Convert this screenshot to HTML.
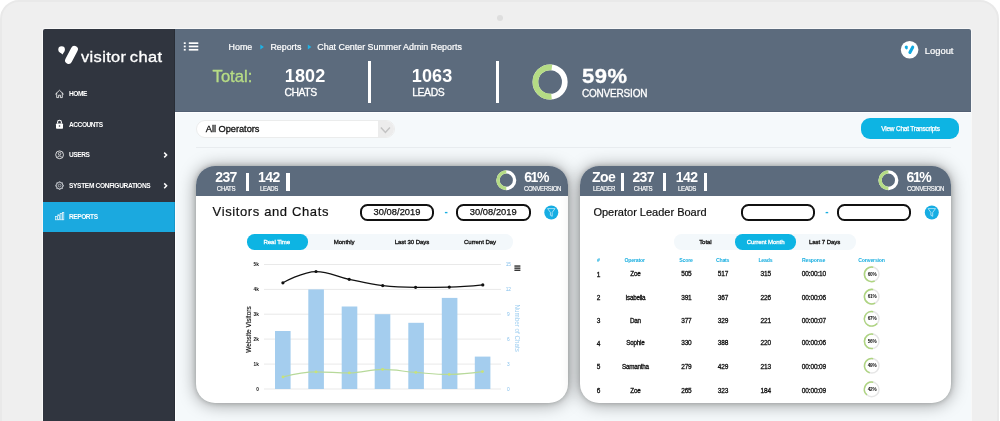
<!DOCTYPE html>
<html lang="en">
<head>
<meta charset="utf-8">
<title>Visitor Chat - Reports</title>
<style>
*{box-sizing:border-box;margin:0;padding:0}
html,body{width:1000px;height:421px;overflow:hidden;background:#fff;font-family:"Liberation Sans",sans-serif}
#frame{position:absolute;left:0;top:0;width:999px;height:460px;background:#efefef;border-radius:19px;border:2px solid #e9e9e9}
#cam{position:absolute;left:497px;top:15px;width:6px;height:6px;border-radius:50%;background:#dedede}
#screen{position:absolute;left:43px;top:29px;width:928px;height:392px;background:#f5f9fb;overflow:hidden;border-radius:2px 2px 0 0;box-shadow:0 0 0 1px #f8f8f8}
#in{position:absolute;left:-43px;top:-29px;width:1000px;height:421px}
.t{position:absolute;white-space:nowrap;line-height:1}
.r{position:absolute}
.card{position:absolute;top:166px;height:237px;background:#fff;border-radius:19px;box-shadow:0 0 5px rgba(0,0,0,.20),0 1px 17px rgba(0,0,0,.40)}
.chead{position:absolute;left:0;top:0;width:100%;height:30px;background:#5c6b7d;border-radius:19px 19px 0 0}
</style>
</head>
<body>
<div id="frame"></div>
<div id="cam"></div>
<div id="screen"><div id="in">
<!-- toolbar + cards -->
<div class="r" style="left:195.6px;top:120px;width:199.6px;height:18.2px;background:#fff;border-radius:9px;border:1.7px solid #ebecec;"></div>
<div class="r" style="left:377.6px;top:121px;width:16.8px;height:16.2px;background:#ececec;border-radius:0 8px 8px 0;"></div>
<svg class="r" style="left:0;top:0" width="1000" height="421" viewBox="0 0 1000 421"><path d="M380.9,127.6 L385.4,132.5 L389.9,127.6" fill="none" stroke="#c3c3c3" stroke-width="1.5"/></svg>
<div class="t" style="left:205.80px;top:125.06px;font-size:9.3px;color:#111;letter-spacing:-0.05px;-webkit-text-stroke:0.3px #111;">All Operators</div>
<div class="r" style="left:196px;top:147px;width:755px;height:1px;background:#e8ecef;"></div>
<div class="r" style="left:861.3px;top:117.7px;width:98.2px;height:21.1px;background:#0db4e3;border-radius:9px;"></div>
<div class="t" style="left:910.50px;top:126.22px;font-size:6.5px;color:#fff;letter-spacing:-0.22px;transform:translateX(-50%);-webkit-text-stroke:0.25px #fff;">View Chat Transcripts</div>
<div class="card" style="left:196.3px;width:372px"><div class="chead"></div></div>
<div class="card" style="left:580.3px;width:371px"><div class="chead"></div></div>
<div class="t" style="left:226.00px;top:170.46px;font-size:14px;color:#fff;font-weight:bold;letter-spacing:-0.6px;transform:translateX(-50%);">237</div><div class="t" style="left:226.00px;top:186.28px;font-size:6.8px;color:#fff;letter-spacing:-0.45px;transform:translateX(-50%) scaleX(0.9);-webkit-text-stroke:0.15px #fff;">CHATS</div>
<div class="r" style="left:246.3px;top:172.5px;width:3.2px;height:18.3px;background:#fff;"></div>
<div class="t" style="left:268.90px;top:170.46px;font-size:14px;color:#fff;font-weight:bold;letter-spacing:-0.6px;transform:translateX(-50%);">142</div><div class="t" style="left:268.90px;top:186.28px;font-size:6.8px;color:#fff;letter-spacing:-0.45px;transform:translateX(-50%) scaleX(0.9);-webkit-text-stroke:0.15px #fff;">LEADS</div>
<div class="r" style="left:286.4px;top:172.5px;width:3.4px;height:18.3px;background:#fff;"></div>
<div class="t" style="left:603.60px;top:170.46px;font-size:14px;color:#fff;font-weight:bold;letter-spacing:-0.6px;transform:translateX(-50%);">Zoe</div><div class="t" style="left:603.60px;top:186.28px;font-size:6.8px;color:#fff;letter-spacing:-0.45px;transform:translateX(-50%) scaleX(0.9);-webkit-text-stroke:0.15px #fff;">LEADER</div>
<div class="r" style="left:620.8px;top:172.5px;width:3.3px;height:18.3px;background:#fff;"></div>
<div class="t" style="left:643.20px;top:170.46px;font-size:14px;color:#fff;font-weight:bold;letter-spacing:-0.6px;transform:translateX(-50%);">237</div><div class="t" style="left:643.20px;top:186.28px;font-size:6.8px;color:#fff;letter-spacing:-0.45px;transform:translateX(-50%) scaleX(0.9);-webkit-text-stroke:0.15px #fff;">CHATS</div>
<div class="r" style="left:662.5px;top:172.5px;width:3.3px;height:18.3px;background:#fff;"></div>
<div class="t" style="left:686.60px;top:170.46px;font-size:14px;color:#fff;font-weight:bold;letter-spacing:-0.6px;transform:translateX(-50%);">142</div><div class="t" style="left:686.60px;top:186.28px;font-size:6.8px;color:#fff;letter-spacing:-0.45px;transform:translateX(-50%) scaleX(0.9);-webkit-text-stroke:0.15px #fff;">LEADS</div>
<div class="r" style="left:703.9px;top:172.5px;width:3.4px;height:18.3px;background:#fff;"></div>
<svg class="r" style="left:0;top:0" width="1000" height="421" viewBox="0 0 1000 421"><circle cx="506.3" cy="180.2" r="8.3" fill="none" stroke="#fff" stroke-width="3.4"/><path d="M506.30,171.90 A8.3,8.3 0 0 0 506.30,188.50" fill="none" stroke="#b5dc85" stroke-width="3.4"/></svg>
<div class="t" style="left:524.20px;top:170.46px;font-size:14px;color:#fff;font-weight:bold;letter-spacing:-1.4px;">61%</div>
<div class="t" style="left:524.40px;top:186.28px;font-size:6.8px;color:#fff;letter-spacing:-0.45px;transform:scaleX(0.9);transform-origin:0 50%;-webkit-text-stroke:0.15px #fff;">CONVERSION</div>
<svg class="r" style="left:0;top:0" width="1000" height="421" viewBox="0 0 1000 421"><circle cx="888.4" cy="180.2" r="8.3" fill="none" stroke="#fff" stroke-width="3.4"/><path d="M888.40,171.90 A8.3,8.3 0 0 0 888.40,188.50" fill="none" stroke="#b5dc85" stroke-width="3.4"/></svg>
<div class="t" style="left:906.60px;top:170.46px;font-size:14px;color:#fff;font-weight:bold;letter-spacing:-1.4px;">61%</div>
<div class="t" style="left:906.80px;top:186.28px;font-size:6.8px;color:#fff;letter-spacing:-0.45px;transform:scaleX(0.9);transform-origin:0 50%;-webkit-text-stroke:0.15px #fff;">CONVERSION</div>
<div class="t" style="left:212.60px;top:205.35px;font-size:13px;color:#111;letter-spacing:0.62px;-webkit-text-stroke:0.2px #111;">Visitors and Chats</div>
<div class="r" style="left:360px;top:203.6px;width:74px;height:17.8px;background:#fff;border-radius:7.5px;border:2.2px solid #111;"></div><div class="t" style="left:397.00px;top:208.06px;font-size:9.3px;color:#111;letter-spacing:0.05px;transform:translateX(-50%);-webkit-text-stroke:0.25px #111;">30/08/2019</div>
<div class="r" style="left:456px;top:203.6px;width:74.5px;height:17.8px;background:#fff;border-radius:7.5px;border:2.2px solid #111;"></div><div class="t" style="left:493.25px;top:208.06px;font-size:9.3px;color:#111;letter-spacing:0.05px;transform:translateX(-50%);-webkit-text-stroke:0.25px #111;">30/08/2019</div>
<div class="r" style="left:740.5px;top:203.6px;width:74.5px;height:17.8px;background:#fff;border-radius:7.5px;border:2.2px solid #111;"></div>
<div class="r" style="left:836.7px;top:203.6px;width:74.5px;height:17.8px;background:#fff;border-radius:7.5px;border:2.2px solid #111;"></div>
<div class="t" style="left:446.20px;top:206.92px;font-size:10px;color:#18aee0;font-weight:bold;transform:translateX(-50%);">-</div>
<div class="t" style="left:826.80px;top:206.92px;font-size:10px;color:#18aee0;font-weight:bold;transform:translateX(-50%);">-</div>
<svg class="r" style="left:0;top:0" width="1000" height="421" viewBox="0 0 1000 421"><circle cx="551.3" cy="212.5" r="7" fill="#16ade3"/><path d="M547.5999999999999,208.6 H555.0 L552.1999999999999,212.4 V216.3 L550.4,215.3 V212.4Z" fill="none" stroke="#d9f2fc" stroke-width="0.7" stroke-linejoin="round"/><circle cx="931.8" cy="212.5" r="7" fill="#16ade3"/><path d="M928.0999999999999,208.6 H935.5 L932.6999999999999,212.4 V216.3 L930.9,215.3 V212.4Z" fill="none" stroke="#d9f2fc" stroke-width="0.7" stroke-linejoin="round"/></svg>
<div class="r" style="left:247.5px;top:233.8px;width:265px;height:16.2px;background:#f3f8fb;border-radius:7.5px;"></div>
<div class="r" style="left:247.4px;top:233.7px;width:61px;height:16.3px;background:#0db4e3;border-radius:7.5px;"></div>
<div class="t" style="left:276.80px;top:239.22px;font-size:6.1px;color:#fff;letter-spacing:-0.08px;transform:translateX(-50%);-webkit-text-stroke:0.3px #fff;">Real Time</div>
<div class="t" style="left:344.20px;top:239.22px;font-size:6.1px;color:#111;letter-spacing:-0.08px;transform:translateX(-50%);-webkit-text-stroke:0.3px #111;">Monthly</div>
<div class="t" style="left:412.00px;top:239.22px;font-size:6.1px;color:#111;letter-spacing:-0.08px;transform:translateX(-50%);-webkit-text-stroke:0.3px #111;">Last 30 Days</div>
<div class="t" style="left:480.00px;top:239.22px;font-size:6.1px;color:#111;letter-spacing:-0.08px;transform:translateX(-50%);-webkit-text-stroke:0.3px #111;">Current Day</div>
<div class="r" style="left:674px;top:233.8px;width:182px;height:16.2px;background:#f3f8fb;border-radius:7.5px;"></div>
<div class="r" style="left:735.4px;top:233.7px;width:61px;height:16.3px;background:#0db4e3;border-radius:7.5px;"></div>
<div class="t" style="left:705.40px;top:239.22px;font-size:6.1px;color:#111;letter-spacing:-0.08px;transform:translateX(-50%);-webkit-text-stroke:0.3px #111;">Total</div>
<div class="t" style="left:765.60px;top:239.22px;font-size:6.1px;color:#fff;letter-spacing:-0.08px;transform:translateX(-50%);-webkit-text-stroke:0.3px #fff;">Current Month</div>
<div class="t" style="left:824.60px;top:239.22px;font-size:6.1px;color:#111;letter-spacing:-0.08px;transform:translateX(-50%);-webkit-text-stroke:0.3px #111;">Last 7 Days</div>
<svg class="r" style="left:0;top:0;font-family:'Liberation Sans',sans-serif" width="1000" height="421" viewBox="0 0 1000 421"><rect x="264" y="264.0" width="237" height="1" fill="#e9e9e9"/><rect x="264" y="288.9" width="237" height="1" fill="#e9e9e9"/><rect x="264" y="313.7" width="237" height="1" fill="#e9e9e9"/><rect x="264" y="338.6" width="237" height="1" fill="#e9e9e9"/><rect x="264" y="363.6" width="237" height="1" fill="#e9e9e9"/><rect x="264" y="388.5" width="237" height="1" fill="#e9e9e9"/><rect x="275.0" y="331" width="15.6" height="58.0" fill="#a4cdee"/><rect x="308.3" y="289.4" width="15.6" height="99.6" fill="#a4cdee"/><rect x="341.7" y="306.5" width="15.6" height="82.5" fill="#a4cdee"/><rect x="374.7" y="314.2" width="15.6" height="74.8" fill="#a4cdee"/><rect x="408.3" y="322.8" width="15.6" height="66.2" fill="#a4cdee"/><rect x="441.8" y="297.9" width="15.6" height="91.1" fill="#a4cdee"/><rect x="474.8" y="356.6" width="15.6" height="32.4" fill="#a4cdee"/><path d="M283.0,376.9 C283.0,376.9 302.8,371.9 316.0,371.9 C329.3,371.9 336.0,372.9 349.3,372.9 C362.6,372.9 369.3,369.4 382.6,369.4 C395.9,369.4 402.5,371.4 415.8,372.4 C429.2,373.4 435.8,374.4 449.2,374.4 C462.5,374.4 482.5,371.6 482.5,371.6" fill="none" stroke="#b7d99a" stroke-width="1.1"/><circle cx="283" cy="376.9" r="1.4" fill="#c8e27a"/><circle cx="316" cy="371.9" r="1.4" fill="#c8e27a"/><circle cx="349.3" cy="372.9" r="1.4" fill="#c8e27a"/><circle cx="382.6" cy="369.4" r="1.4" fill="#c8e27a"/><circle cx="415.8" cy="372.4" r="1.4" fill="#c8e27a"/><circle cx="449.2" cy="374.4" r="1.4" fill="#c8e27a"/><circle cx="482.5" cy="371.6" r="1.4" fill="#c8e27a"/><path d="M282.9,282.8 C282.9,282.8 302.8,271.5 316.0,271.5 C329.3,271.5 335.9,276.5 349.2,279.3 C362.6,282.1 369.3,284.0 382.7,285.6 C395.9,287.2 402.4,287.3 415.6,287.3 C429.1,287.3 435.8,287.3 449.3,287.1 C462.7,286.9 482.8,284.9 482.8,284.9" fill="none" stroke="#111" stroke-width="1.25"/><circle cx="282.9" cy="282.8" r="1.6" fill="#111"/><circle cx="316" cy="271.5" r="1.6" fill="#111"/><circle cx="349.2" cy="279.3" r="1.6" fill="#111"/><circle cx="382.7" cy="285.6" r="1.6" fill="#111"/><circle cx="415.6" cy="287.3" r="1.6" fill="#111"/><circle cx="449.3" cy="287.1" r="1.6" fill="#111"/><circle cx="482.8" cy="284.9" r="1.6" fill="#111"/><rect x="514.4" y="265.4" width="6" height="1.3" fill="#222"/><rect x="514.4" y="267.5" width="6" height="1.3" fill="#222"/><rect x="514.4" y="269.6" width="6" height="1.3" fill="#222"/><text x="258.8" y="266.1" font-size="4.7" font-weight="bold" fill="#111" text-anchor="end">5k</text><text x="258.8" y="291.0" font-size="4.7" font-weight="bold" fill="#111" text-anchor="end">4k</text><text x="258.8" y="315.8" font-size="4.7" font-weight="bold" fill="#111" text-anchor="end">3k</text><text x="258.8" y="340.7" font-size="4.7" font-weight="bold" fill="#111" text-anchor="end">2k</text><text x="258.8" y="365.7" font-size="4.7" font-weight="bold" fill="#111" text-anchor="end">1k</text><text x="258.8" y="390.6" font-size="4.7" font-weight="bold" fill="#111" text-anchor="end">0</text><text x="508.3" y="266.1" font-size="4.8" fill="#86c0ec" text-anchor="middle">15</text><text x="508.3" y="291.0" font-size="4.8" fill="#86c0ec" text-anchor="middle">12</text><text x="508.3" y="315.8" font-size="4.8" fill="#86c0ec" text-anchor="middle">9</text><text x="508.3" y="340.7" font-size="4.8" fill="#86c0ec" text-anchor="middle">6</text><text x="508.3" y="365.7" font-size="4.8" fill="#86c0ec" text-anchor="middle">3</text><text x="508.3" y="390.6" font-size="4.8" fill="#86c0ec" text-anchor="middle">0</text><text transform="translate(251.4,329.5) rotate(-90)" font-size="6.5" fill="#111" stroke="#111" stroke-width="0.15" text-anchor="middle">Website Visitors</text><text transform="translate(515.4,328.2) rotate(90)" font-size="6.3" fill="#9ccdf0" text-anchor="middle">Number of Chats</text></svg>
<div class="t" style="left:593.40px;top:206.93px;font-size:11px;color:#111;-webkit-text-stroke:0.2px #111;">Operator Leader Board</div>
<div class="t" style="left:598.40px;top:258.26px;font-size:5.2px;color:#18aee0;font-weight:bold;letter-spacing:-0.2px;transform:translateX(-50%);">#</div>
<div class="t" style="left:634.60px;top:258.26px;font-size:5.2px;color:#18aee0;font-weight:bold;letter-spacing:-0.2px;transform:translateX(-50%);">Operator</div>
<div class="t" style="left:686.00px;top:258.26px;font-size:5.2px;color:#18aee0;font-weight:bold;letter-spacing:-0.2px;transform:translateX(-50%);">Score</div>
<div class="t" style="left:722.60px;top:258.26px;font-size:5.2px;color:#18aee0;font-weight:bold;letter-spacing:-0.2px;transform:translateX(-50%);">Chats</div>
<div class="t" style="left:765.40px;top:258.26px;font-size:5.2px;color:#18aee0;font-weight:bold;letter-spacing:-0.2px;transform:translateX(-50%);">Leads</div>
<div class="t" style="left:813.50px;top:258.26px;font-size:5.2px;color:#18aee0;font-weight:bold;letter-spacing:-0.2px;transform:translateX(-50%);">Response</div>
<div class="t" style="left:871.50px;top:258.26px;font-size:5.2px;color:#18aee0;font-weight:bold;letter-spacing:-0.2px;transform:translateX(-50%);">Conversion</div>
<div class="t" style="left:598.40px;top:271.62px;font-size:6.5px;color:#111;letter-spacing:-0.15px;transform:translateX(-50%);-webkit-text-stroke:0.3px #111;">1</div>
<div class="t" style="left:635.40px;top:271.42px;font-size:6.3px;color:#111;letter-spacing:-0.25px;transform:translateX(-50%);-webkit-text-stroke:0.3px #111;">Zoe</div>
<div class="t" style="left:686.40px;top:271.32px;font-size:6.5px;color:#111;letter-spacing:-0.15px;transform:translateX(-50%);-webkit-text-stroke:0.3px #111;">505</div>
<div class="t" style="left:723.00px;top:271.32px;font-size:6.5px;color:#111;letter-spacing:-0.15px;transform:translateX(-50%);-webkit-text-stroke:0.3px #111;">517</div>
<div class="t" style="left:765.80px;top:271.32px;font-size:6.5px;color:#111;letter-spacing:-0.15px;transform:translateX(-50%);-webkit-text-stroke:0.3px #111;">315</div>
<div class="t" style="left:813.90px;top:271.32px;font-size:6.5px;color:#111;letter-spacing:-0.15px;transform:translateX(-50%);-webkit-text-stroke:0.3px #111;">00:00:10</div>
<div class="t" style="left:872.00px;top:272.90px;font-size:4.7px;color:#111;font-weight:bold;letter-spacing:-0.25px;transform:translateX(-50%);">60%</div>
<div class="t" style="left:598.40px;top:295.32px;font-size:6.5px;color:#111;letter-spacing:-0.15px;transform:translateX(-50%);-webkit-text-stroke:0.3px #111;">2</div>
<div class="t" style="left:635.40px;top:295.12px;font-size:6.3px;color:#111;letter-spacing:-0.25px;transform:translateX(-50%);-webkit-text-stroke:0.3px #111;">Isabella</div>
<div class="t" style="left:686.40px;top:295.02px;font-size:6.5px;color:#111;letter-spacing:-0.15px;transform:translateX(-50%);-webkit-text-stroke:0.3px #111;">391</div>
<div class="t" style="left:723.00px;top:295.02px;font-size:6.5px;color:#111;letter-spacing:-0.15px;transform:translateX(-50%);-webkit-text-stroke:0.3px #111;">367</div>
<div class="t" style="left:765.80px;top:295.02px;font-size:6.5px;color:#111;letter-spacing:-0.15px;transform:translateX(-50%);-webkit-text-stroke:0.3px #111;">226</div>
<div class="t" style="left:813.90px;top:295.02px;font-size:6.5px;color:#111;letter-spacing:-0.15px;transform:translateX(-50%);-webkit-text-stroke:0.3px #111;">00:00:06</div>
<div class="t" style="left:872.00px;top:295.30px;font-size:4.7px;color:#111;font-weight:bold;letter-spacing:-0.25px;transform:translateX(-50%);">61%</div>
<div class="t" style="left:598.40px;top:317.92px;font-size:6.5px;color:#111;letter-spacing:-0.15px;transform:translateX(-50%);-webkit-text-stroke:0.3px #111;">3</div>
<div class="t" style="left:635.40px;top:317.72px;font-size:6.3px;color:#111;letter-spacing:-0.25px;transform:translateX(-50%);-webkit-text-stroke:0.3px #111;">Dan</div>
<div class="t" style="left:686.40px;top:317.62px;font-size:6.5px;color:#111;letter-spacing:-0.15px;transform:translateX(-50%);-webkit-text-stroke:0.3px #111;">377</div>
<div class="t" style="left:723.00px;top:317.62px;font-size:6.5px;color:#111;letter-spacing:-0.15px;transform:translateX(-50%);-webkit-text-stroke:0.3px #111;">329</div>
<div class="t" style="left:765.80px;top:317.62px;font-size:6.5px;color:#111;letter-spacing:-0.15px;transform:translateX(-50%);-webkit-text-stroke:0.3px #111;">221</div>
<div class="t" style="left:813.90px;top:317.62px;font-size:6.5px;color:#111;letter-spacing:-0.15px;transform:translateX(-50%);-webkit-text-stroke:0.3px #111;">00:00:07</div>
<div class="t" style="left:872.00px;top:317.40px;font-size:4.7px;color:#111;font-weight:bold;letter-spacing:-0.25px;transform:translateX(-50%);">67%</div>
<div class="t" style="left:598.40px;top:340.52px;font-size:6.5px;color:#111;letter-spacing:-0.15px;transform:translateX(-50%);-webkit-text-stroke:0.3px #111;">4</div>
<div class="t" style="left:635.40px;top:340.32px;font-size:6.3px;color:#111;letter-spacing:-0.25px;transform:translateX(-50%);-webkit-text-stroke:0.3px #111;">Sophie</div>
<div class="t" style="left:686.40px;top:340.22px;font-size:6.5px;color:#111;letter-spacing:-0.15px;transform:translateX(-50%);-webkit-text-stroke:0.3px #111;">330</div>
<div class="t" style="left:723.00px;top:340.22px;font-size:6.5px;color:#111;letter-spacing:-0.15px;transform:translateX(-50%);-webkit-text-stroke:0.3px #111;">388</div>
<div class="t" style="left:765.80px;top:340.22px;font-size:6.5px;color:#111;letter-spacing:-0.15px;transform:translateX(-50%);-webkit-text-stroke:0.3px #111;">220</div>
<div class="t" style="left:813.90px;top:340.22px;font-size:6.5px;color:#111;letter-spacing:-0.15px;transform:translateX(-50%);-webkit-text-stroke:0.3px #111;">00:00:06</div>
<div class="t" style="left:872.00px;top:339.90px;font-size:4.7px;color:#111;font-weight:bold;letter-spacing:-0.25px;transform:translateX(-50%);">56%</div>
<div class="t" style="left:598.40px;top:364.02px;font-size:6.5px;color:#111;letter-spacing:-0.15px;transform:translateX(-50%);-webkit-text-stroke:0.3px #111;">5</div>
<div class="t" style="left:635.40px;top:363.82px;font-size:6.3px;color:#111;letter-spacing:-0.25px;transform:translateX(-50%);-webkit-text-stroke:0.3px #111;">Samantha</div>
<div class="t" style="left:686.40px;top:363.72px;font-size:6.5px;color:#111;letter-spacing:-0.15px;transform:translateX(-50%);-webkit-text-stroke:0.3px #111;">279</div>
<div class="t" style="left:723.00px;top:363.72px;font-size:6.5px;color:#111;letter-spacing:-0.15px;transform:translateX(-50%);-webkit-text-stroke:0.3px #111;">429</div>
<div class="t" style="left:765.80px;top:363.72px;font-size:6.5px;color:#111;letter-spacing:-0.15px;transform:translateX(-50%);-webkit-text-stroke:0.3px #111;">213</div>
<div class="t" style="left:813.90px;top:363.72px;font-size:6.5px;color:#111;letter-spacing:-0.15px;transform:translateX(-50%);-webkit-text-stroke:0.3px #111;">00:00:09</div>
<div class="t" style="left:872.00px;top:364.40px;font-size:4.7px;color:#111;font-weight:bold;letter-spacing:-0.25px;transform:translateX(-50%);">49%</div>
<div class="t" style="left:598.40px;top:388.42px;font-size:6.5px;color:#111;letter-spacing:-0.15px;transform:translateX(-50%);-webkit-text-stroke:0.3px #111;">6</div>
<div class="t" style="left:635.40px;top:388.22px;font-size:6.3px;color:#111;letter-spacing:-0.25px;transform:translateX(-50%);-webkit-text-stroke:0.3px #111;">Zoe</div>
<div class="t" style="left:686.40px;top:388.12px;font-size:6.5px;color:#111;letter-spacing:-0.15px;transform:translateX(-50%);-webkit-text-stroke:0.3px #111;">265</div>
<div class="t" style="left:723.00px;top:388.12px;font-size:6.5px;color:#111;letter-spacing:-0.15px;transform:translateX(-50%);-webkit-text-stroke:0.3px #111;">323</div>
<div class="t" style="left:765.80px;top:388.12px;font-size:6.5px;color:#111;letter-spacing:-0.15px;transform:translateX(-50%);-webkit-text-stroke:0.3px #111;">184</div>
<div class="t" style="left:813.90px;top:388.12px;font-size:6.5px;color:#111;letter-spacing:-0.15px;transform:translateX(-50%);-webkit-text-stroke:0.3px #111;">00:00:09</div>
<div class="t" style="left:872.00px;top:388.00px;font-size:4.7px;color:#111;font-weight:bold;letter-spacing:-0.25px;transform:translateX(-50%);">42%</div>
<svg class="r" style="left:0;top:0" width="1000" height="421" viewBox="0 0 1000 421"><circle cx="871.7" cy="274.29999999999995" r="7.3" fill="none" stroke="#e6e6e6" stroke-width="1.5"/><path d="M873.22,267.16 A7.3,7.3 0 1 0 874.67,280.97" fill="none" stroke="#aed580" stroke-width="1.5"/><circle cx="871.7" cy="296.7" r="7.3" fill="none" stroke="#e6e6e6" stroke-width="1.5"/><path d="M873.22,289.56 A7.3,7.3 0 1 0 875.08,303.17" fill="none" stroke="#aed580" stroke-width="1.5"/><circle cx="871.7" cy="318.79999999999995" r="7.3" fill="none" stroke="#e6e6e6" stroke-width="1.5"/><path d="M873.22,311.66 A7.3,7.3 0 1 0 877.23,323.57" fill="none" stroke="#aed580" stroke-width="1.5"/><circle cx="871.7" cy="341.29999999999995" r="7.3" fill="none" stroke="#e6e6e6" stroke-width="1.5"/><path d="M873.22,334.16 A7.3,7.3 0 1 0 872.92,348.50" fill="none" stroke="#aed580" stroke-width="1.5"/><circle cx="871.7" cy="365.79999999999995" r="7.3" fill="none" stroke="#e6e6e6" stroke-width="1.5"/><path d="M873.22,358.66 A7.3,7.3 0 0 0 869.74,372.83" fill="none" stroke="#aed580" stroke-width="1.5"/><circle cx="871.7" cy="389.4" r="7.3" fill="none" stroke="#e6e6e6" stroke-width="1.5"/><path d="M873.22,382.26 A7.3,7.3 0 0 0 866.93,394.93" fill="none" stroke="#aed580" stroke-width="1.5"/></svg>
<!-- header -->
<div class="r" style="left:175px;top:29px;width:796px;height:82.8px;background:#5c6b7d;box-shadow:inset 0 -1px 0 #526073,0 1px 0 #fdfeff;"></div>
<svg class="r" style="left:0;top:0" width="1000" height="421" viewBox="0 0 1000 421"><rect x="183.8" y="42.300000000000004" width="1.9" height="1.7" fill="#fff"/><rect x="188.8" y="42.300000000000004" width="9.5" height="1.7" fill="#fff"/><rect x="183.8" y="45.6" width="1.9" height="1.7" fill="#fff"/><rect x="188.8" y="45.6" width="9.5" height="1.7" fill="#fff"/><rect x="183.8" y="48.900000000000006" width="1.9" height="1.7" fill="#fff"/><rect x="188.8" y="48.900000000000006" width="9.5" height="1.7" fill="#fff"/><path d="M260.3,44.6 L263.90000000000003,47 L260.3,49.4Z" fill="#1fb3e6"/><path d="M307.8,44.6 L311.40000000000003,47 L307.8,49.4Z" fill="#1fb3e6"/><circle cx="550.1" cy="82" r="14.7" fill="none" stroke="#fff" stroke-width="5.7"/><path d="M551.89,67.41 A14.7,14.7 0 1 0 551.53,96.63" fill="none" stroke="#b5dc85" stroke-width="5.7"/><circle cx="909.6" cy="49.7" r="8.8" fill="#fff"/><circle cx="906.3" cy="47.1" r="1.6" fill="#12a9e0"/><path d="M905.0,48.0 L906.9,49.8 L907.8,48.0Z" fill="#12a9e0"/><line x1="912.7" y1="47.2" x2="909.9" y2="52.4" stroke="#12a9e0" stroke-width="3.1" stroke-linecap="round"/></svg>
<div class="t" style="left:228.60px;top:42.65px;font-size:8.9px;color:#fff;-webkit-text-stroke:0.2px #fff;">Home</div>
<div class="t" style="left:270.40px;top:42.65px;font-size:8.9px;color:#fff;-webkit-text-stroke:0.2px #fff;">Reports</div>
<div class="t" style="left:317.30px;top:42.65px;font-size:8.9px;color:#fff;-webkit-text-stroke:0.2px #fff;">Chat Center Summer Admin Reports</div>
<div class="t" style="left:212.60px;top:68.89px;font-size:16.6px;color:#b7dc85;-webkit-text-stroke:0.35px #b7dc85;">Total:</div>
<div class="t" style="left:284.80px;top:66.81px;font-size:18px;color:#fff;font-weight:bold;letter-spacing:0.1px;">1802</div>
<div class="t" style="left:284.40px;top:87.92px;font-size:10.4px;color:#fff;letter-spacing:-0.4px;-webkit-text-stroke:0.3px #fff;">CHATS</div>
<div class="r" style="left:367.5px;top:61px;width:3.2px;height:42px;background:#fff;"></div>
<div class="t" style="left:411.80px;top:66.81px;font-size:18px;color:#fff;font-weight:bold;letter-spacing:0.1px;">1063</div>
<div class="t" style="left:412.20px;top:87.92px;font-size:10.4px;color:#fff;letter-spacing:-0.4px;-webkit-text-stroke:0.3px #fff;">LEADS</div>
<div class="r" style="left:495.6px;top:61px;width:3.2px;height:42px;background:#fff;"></div>
<div class="t" style="left:581.80px;top:66.23px;font-size:20px;color:#fff;font-weight:bold;letter-spacing:0.5px;transform:scaleX(1.1);transform-origin:0 50%;-webkit-text-stroke:0.3px #fff;">59%</div>
<div class="t" style="left:582.00px;top:89.31px;font-size:10px;color:#fff;letter-spacing:-0.2px;-webkit-text-stroke:0.3px #fff;">CONVERSION</div>
<div class="t" style="left:924.80px;top:45.51px;font-size:9.4px;color:#fff;-webkit-text-stroke:0.2px #fff;">Logout</div>
<!-- sidebar -->
<div class="r" style="left:175px;top:112.8px;width:1px;height:310px;background:#fdfeff;"></div>
<div class="r" style="left:43px;top:29px;width:132px;height:392px;background:#30353f;box-shadow:inset -1px 0 0 #282d36;"></div>
<svg class="r" style="left:57px;top:43px" width="24" height="24" viewBox="0 0 24 24"><circle cx="4.6" cy="6.6" r="3.3" fill="#fff"/><path d="M2 8.6 L5.6 11.6 L7.2 8.6Z" fill="#fff"/><line x1="17.4" y1="6.4" x2="11.6" y2="17.4" stroke="#fff" stroke-width="7" stroke-linecap="round"/></svg>
<div class="t" style="left:81.00px;top:50.56px;font-size:13.8px;color:#fff;letter-spacing:0.3px;transform:scaleX(1.19);transform-origin:0 50%;-webkit-text-stroke:0.3px #fff;word-spacing:-1.2px;">visitor chat</div>
<div class="r" style="left:43px;top:202px;width:132px;height:30px;background:#1ba9df;box-shadow:inset -1px 0 0 #1797c9;"></div>
<div class="t" style="left:69.20px;top:90.43px;font-size:7.3px;color:#fff;font-weight:bold;letter-spacing:-0.5px;transform:scaleX(0.9);transform-origin:0 50%;">HOME</div>
<div class="t" style="left:69.20px;top:120.83px;font-size:7.3px;color:#fff;font-weight:bold;letter-spacing:-0.5px;transform:scaleX(0.9);transform-origin:0 50%;">ACCOUNTS</div>
<div class="t" style="left:69.20px;top:151.23px;font-size:7.3px;color:#fff;font-weight:bold;letter-spacing:-0.5px;transform:scaleX(0.9);transform-origin:0 50%;">USERS</div>
<div class="t" style="left:69.20px;top:182.03px;font-size:7.3px;color:#fff;font-weight:bold;letter-spacing:-0.36px;transform:scaleX(0.9);transform-origin:0 50%;">SYSTEM CONFIGURATIONS</div>
<div class="t" style="left:69.20px;top:212.73px;font-size:7.3px;color:#fff;font-weight:bold;letter-spacing:-0.5px;transform:scaleX(0.9);transform-origin:0 50%;">REPORTS</div>
<svg class="r" style="left:0;top:0" width="1000" height="421" viewBox="0 0 1000 421"><path d="M55.6,94 L59.5,90.3 L63.4,94 M56.7,93.2 V97.6 H58.6 V95.2 H60.4 V97.6 H62.3 V93.2" fill="none" stroke="#fff" stroke-width="0.8" stroke-linejoin="round" stroke-linecap="round"/><rect x="56" y="123.4" width="7" height="5.4" rx="0.8" fill="#fff"/><path d="M57.6,123.6 V122.2 a1.9,1.9 0 0 1 3.8,0 V123.6" fill="none" stroke="#fff" stroke-width="1.1"/><circle cx="59.5" cy="126" r="0.8" fill="#30353f"/><circle cx="59.6" cy="154.8" r="3.9" fill="none" stroke="#fff" stroke-width="0.8"/><circle cx="59.6" cy="153.7" r="1.3" fill="none" stroke="#fff" stroke-width="0.7"/><path d="M57.2,157.6 a2.5,2.2 0 0 1 4.8,0" fill="none" stroke="#fff" stroke-width="0.7"/><line x1="63.10" y1="185.60" x2="63.80" y2="185.60" stroke="#cfd3d8" stroke-width="1.7"/><line x1="62.07" y1="188.07" x2="62.57" y2="188.57" stroke="#cfd3d8" stroke-width="1.7"/><line x1="59.60" y1="189.10" x2="59.60" y2="189.80" stroke="#cfd3d8" stroke-width="1.7"/><line x1="57.13" y1="188.07" x2="56.63" y2="188.57" stroke="#cfd3d8" stroke-width="1.7"/><line x1="56.10" y1="185.60" x2="55.40" y2="185.60" stroke="#cfd3d8" stroke-width="1.7"/><line x1="57.13" y1="183.13" x2="56.63" y2="182.63" stroke="#cfd3d8" stroke-width="1.7"/><line x1="59.60" y1="182.10" x2="59.60" y2="181.40" stroke="#cfd3d8" stroke-width="1.7"/><line x1="62.07" y1="183.13" x2="62.57" y2="182.63" stroke="#cfd3d8" stroke-width="1.7"/><circle cx="59.6" cy="185.6" r="3.3" fill="none" stroke="#cfd3d8" stroke-width="0.9"/><circle cx="59.6" cy="185.6" r="1.4" fill="none" stroke="#cfd3d8" stroke-width="0.7"/><g fill="none" stroke="#e8f6fc" stroke-width="0.7"><rect x="55.4" y="216.6" width="1.8" height="3.2"/><rect x="57.8" y="214.8" width="1.8" height="5"/><rect x="60.2" y="213.6" width="1.8" height="6.2"/><rect x="62.4" y="212.4" width="1.4" height="7.4"/></g><path d="M164.2,152.60000000000002 L166.6,155.0 L164.2,157.4" fill="none" stroke="#fff" stroke-width="1.5"/><path d="M164.2,183.4 L166.6,185.79999999999998 L164.2,188.2" fill="none" stroke="#fff" stroke-width="1.5"/></svg>
</div></div>
</body>
</html>
